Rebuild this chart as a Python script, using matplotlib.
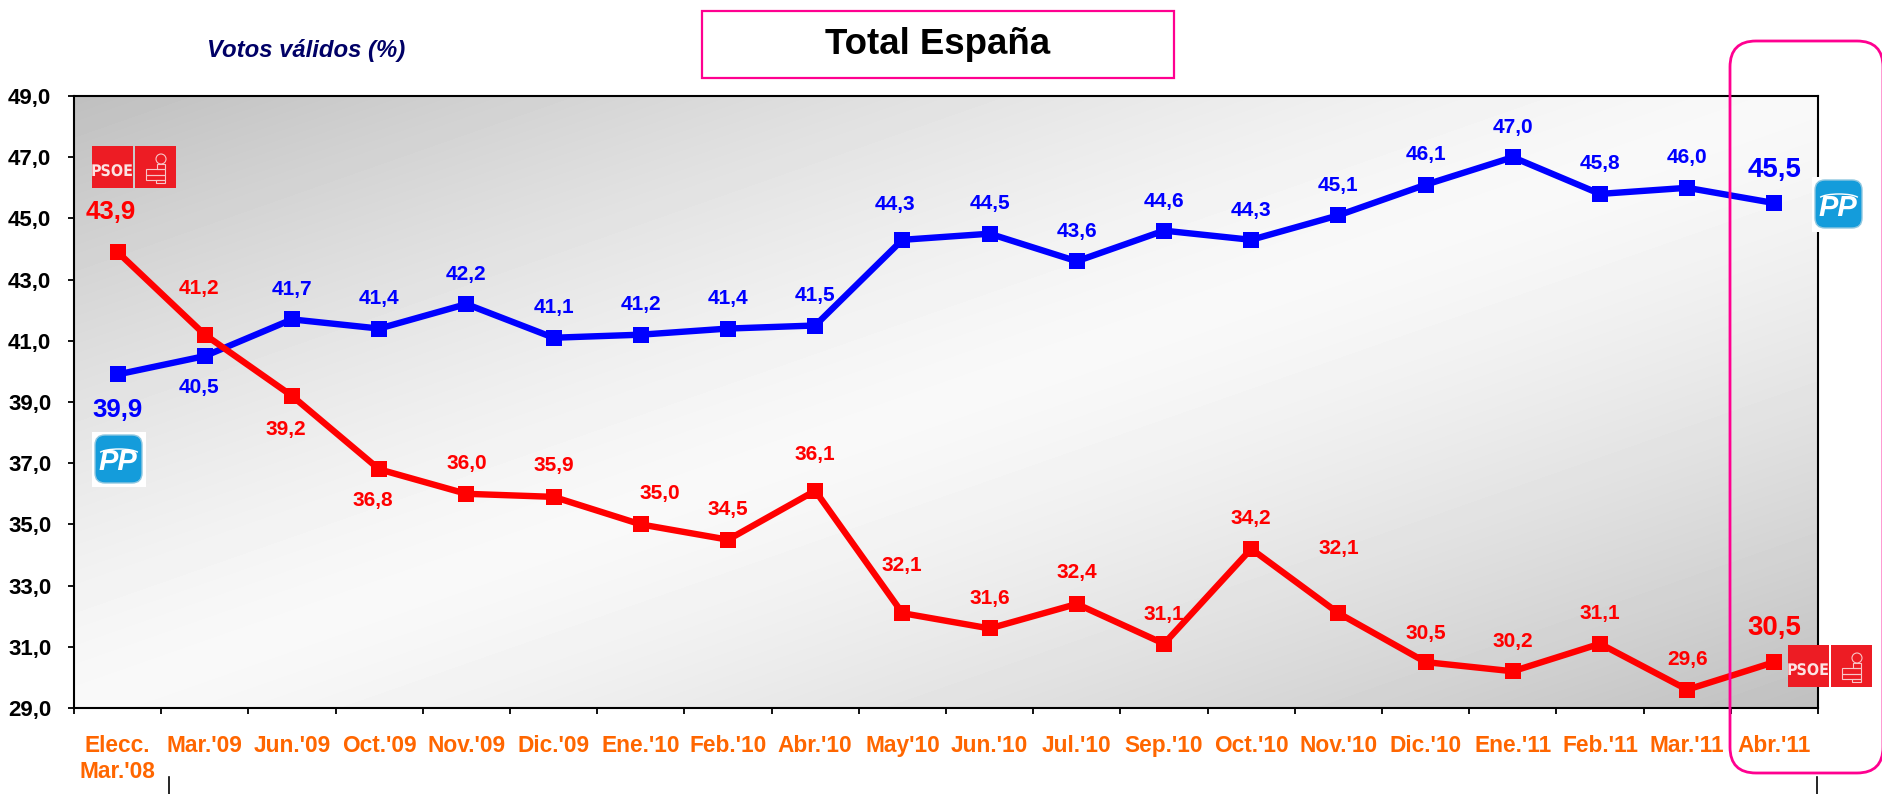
#!/usr/bin/env python3
# -*- coding: utf-8 -*-
import numpy as np
import matplotlib
matplotlib.use('Agg')
import matplotlib.pyplot as plt
from matplotlib.patches import Rectangle, FancyBboxPatch, Arc, Circle

plt.rcParams['font.family'] = ['Liberation Sans', 'DejaVu Sans']
plt.rcParams['font.weight'] = 'bold'
plt.rcParams['text.hinting'] = 'native'
plt.rcParams['text.hinting_factor'] = 8

W, H = 1883, 794

categories = ["Elecc.\nMar.'08", "Mar.'09", "Jun.'09", "Oct.'09", "Nov.'09", "Dic.'09",
              "Ene.'10", "Feb.'10", "Abr.'10", "May'10", "Jun.'10", "Jul.'10",
              "Sep.'10", "Oct.'10", "Nov.'10", "Dic.'10", "Ene.'11", "Feb.'11",
              "Mar.'11", "Abr.'11"]
pp = [39.9, 40.5, 41.7, 41.4, 42.2, 41.1, 41.2, 41.4, 41.5, 44.3,
      44.5, 43.6, 44.6, 44.3, 45.1, 46.1, 47.0, 45.8, 46.0, 45.5]
psoe = [43.9, 41.2, 39.2, 36.8, 36.0, 35.9, 35.0, 34.5, 36.1, 32.1,
        31.6, 32.4, 31.1, 34.2, 32.1, 30.5, 30.2, 31.1, 29.6, 30.5]
yticks = [29, 31, 33, 35, 37, 39, 41, 43, 45, 47, 49]

# label offsets from the marker, in pixels
pp_dx = [0, -6, 0, 0, 0, 0, 0, 0, 0, -7, 0, 0, 0, 0, 0, 0, 0, 0, 0, 0]
pp_dy = [-36, -31, 30, 30, 30, 30, 30, 30, 30, 35, 30, 30, 29, 29, 30, 30, 30, 30, 30, 33]
psoe_dx = [-7, -6, -6, -6, 0, 0, 19, 0, 0, -1, 0, 0, 0, 0, 0, 0, 0, 0, 0, 0]
psoe_dy = [40, 46, -34, -31, 30, 31, 31, 30, 36, 48, 30, 31, 29, 30, 65, 29, 30, 30, 30, 34]
big = [0, 19]

BLUE = '#0000ff'
RED = '#ff0000'
ORANGE = '#ff6600'
PINK = '#ff0090'


def draw_psoe(ov, x, y):
    ov.add_patch(Rectangle((x, y), 41, 42, fc='#ed1c24', ec='none'))
    ov.add_patch(Rectangle((x + 43, y), 41, 42, fc='#ed1c24', ec='none'))
    ov.text(x + 20.5, y + 26, 'PSOE', color='#fbe3e3', fontsize=11.5, ha='center', va='center',
            family='DejaVu Sans', stretch='condensed', weight='bold')
    ox, oy = x + 43 + 19, y + 8
    ov.add_patch(Circle((ox + 7, oy + 5), 5, fc='none', ec='#f7c6c8', lw=0.8))
    for bx, by, bw, bh in [(3, 10, 8, 5), (-8, 15, 19, 6), (-8, 21, 19, 5), (2, 26, 9, 3)]:
        ov.add_patch(Rectangle((ox + bx, oy + by), bw, bh, fc='none', ec='#f7c6c8', lw=0.8))


def draw_pp(ov, x, y):
    ov.add_patch(Rectangle((x, y), 54, 55, fc='white', ec='none'))
    ov.add_patch(FancyBboxPatch((x + 10, y + 10), 33, 34, boxstyle='round,pad=7,rounding_size=10',
                                fc='#149cdb', ec='#8fc7e0', lw=1))
    ov.add_patch(Arc((x + 27, y + 22), 40, 10, theta1=185, theta2=355, color='white', lw=1))
    ov.text(x + 26, y + 31, 'PP', color='white', fontsize=21, style='italic', weight='bold',
            ha='center', va='center')


fig = plt.figure(figsize=(W / 100, H / 100), dpi=100)
ax = fig.add_axes([74 / W, (H - 708) / H, 1744 / W, 612 / H])

x = np.arange(len(categories))

# diagonal background gradient: dark in two corners, light along the other diagonal
u, v = np.meshgrid(np.linspace(0, 1, 400), np.linspace(0, 1, 200))
grad = 0.975 - 0.225 * np.abs(u + v - 1) ** 1.35
ax.imshow(grad, extent=[-0.5, len(categories) - 0.5, 29, 49], origin='upper', aspect='auto',
          cmap='gray', vmin=0, vmax=1, zorder=0, interpolation='bilinear')
ax.set_xlim(-0.5, len(categories) - 0.5)
ax.set_ylim(29, 49)

ax.plot(x, pp, color=BLUE, lw=4.6, marker='s', ms=11.5, mew=0, solid_joinstyle='miter', zorder=3)
ax.plot(x, psoe, color=RED, lw=4.6, marker='s', ms=11.5, mew=0, solid_joinstyle='miter', zorder=4)

for vals, dxs, dys, col in [(pp, pp_dx, pp_dy, BLUE), (psoe, psoe_dx, psoe_dy, RED)]:
    for i, val in enumerate(vals):
        size = 15
        if i in big:
            size = 20 if i == 19 else 18.5
        ax.annotate(f'{val:.1f}'.replace('.', ','), (x[i], val), xytext=(dxs[i], dys[i]),
                    textcoords='offset pixels', color=col, fontsize=size,
                    ha='center', va='center', zorder=6)

ax.set_yticks(yticks)
ax.set_yticklabels([f'{t:.1f}'.replace('.', ',') for t in yticks], fontsize=16, color='k')
ax.tick_params(axis='y', length=4.3, width=1.3, pad=12)
ax.set_xticks(np.arange(-0.5, len(categories), 1))
ax.set_xticklabels([])
ax.set_xticks(x, minor=True)
# baseline alignment keeps the month labels level; second line of the first one added apart
ax.set_xticklabels([c.split('\n')[0] for c in categories], minor=True, fontsize=16.3,
                   color=ORANGE, va='baseline')
ax.tick_params(axis='x', which='major', length=4.3, width=1.3)
ax.tick_params(axis='x', which='minor', length=0, pad=31.7)
ax.annotate(categories[0].split('\n')[1], (x[0], 0), xycoords=ax.get_xaxis_transform(),
            xytext=(0, -70), textcoords='offset pixels', fontsize=16.3, color=ORANGE,
            ha='center', va='baseline', annotation_clip=False)
for s in ax.spines.values():
    s.set_linewidth(1.5)

# overlay in pixel coordinates for boxes and logos
ov = fig.add_axes([0, 0, 1, 1], zorder=5)
ov.set_xlim(0, W)
ov.set_ylim(H, 0)
ov.axis('off')

ov.add_patch(Rectangle((702, 11), 472, 67, fc='white', ec=PINK, lw=1.6))
ov.text(938, 45, 'Total España', fontsize=26.4, color='k', ha='center', va='center')
ov.text(207, 50, 'Votos válidos (%)', fontsize=17.2, style='italic', color='#000066',
        ha='left', va='center')

# rounded highlight round the last month, right edge runs to the image border
ov.add_patch(FancyBboxPatch((1730 + 26, 41 + 26), 153 - 52, 732 - 52,
                            boxstyle='round,pad=26,rounding_size=26',
                            fc='none', ec=PINK, lw=2, clip_on=False))

draw_psoe(ov, 92, 146)
draw_psoe(ov, 1788, 645)
draw_pp(ov, 92, 432)
draw_pp(ov, 1812, 177)

# stray tick stubs below the labels
ov.plot([169, 169], [777, 794], color='k', lw=1.2)
ov.plot([1817, 1817], [777, 794], color='k', lw=1.2)

fig.savefig('out.png', dpi=100)
